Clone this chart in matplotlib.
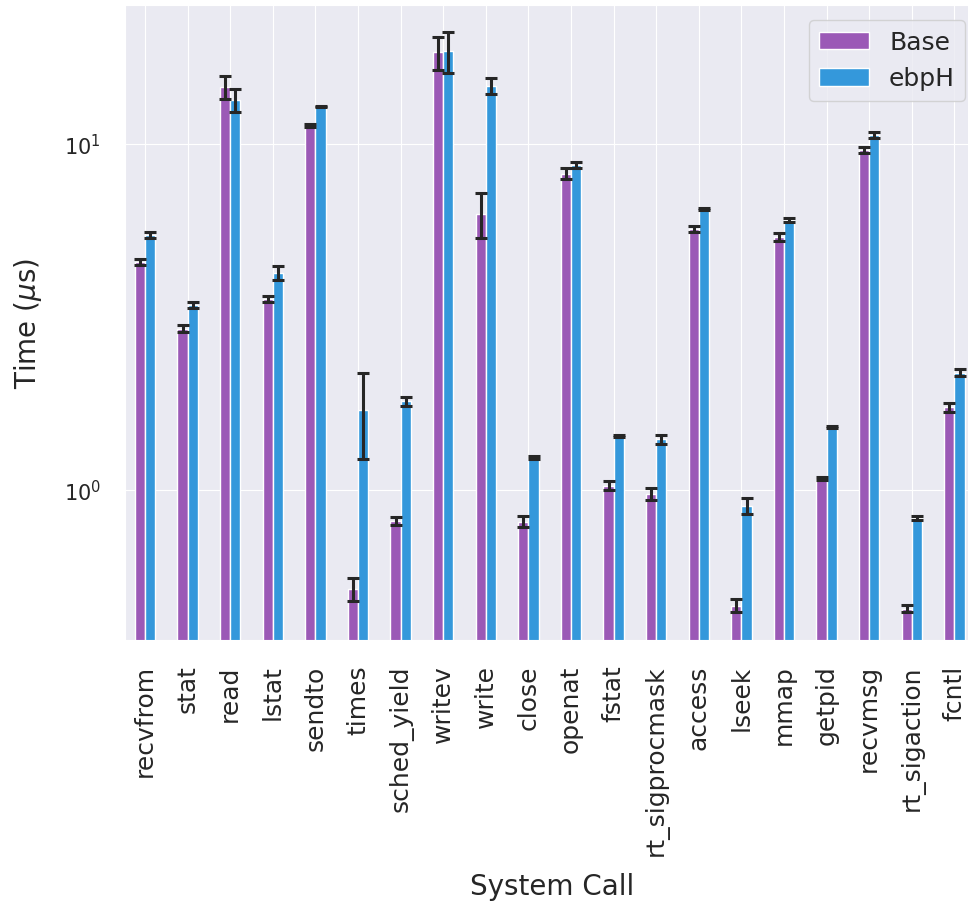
import matplotlib
matplotlib.use("Agg")
import matplotlib.pyplot as plt
import numpy as np
import seaborn as sns

calls = ["recvfrom", "stat", "read", "lstat", "sendto", "times", "sched_yield",
         "writev", "write", "close", "openat", "fstat", "rt_sigprocmask",
         "access", "lseek", "mmap", "getpid", "recvmsg", "rt_sigaction", "fcntl"]

# mean syscall time in microseconds
base = [4.56, 2.92, 14.6, 3.56, 11.3, 0.517, 0.813, 18.4, 6.28, 0.809,
        8.19, 1.027, 0.974, 5.68, 0.462, 5.39, 1.076, 9.61, 0.453, 1.73]
ebph = [5.46, 3.42, 13.4, 4.24, 12.8, 1.70, 1.80, 18.5, 14.7, 1.24,
        8.69, 1.43, 1.40, 6.49, 0.899, 6.03, 1.52, 10.6, 0.830, 2.18]

# standard deviations
base_err = [0.10, 0.07, 1.10, 0.08, 0.10, 0.04, 0.02, 2.0, 0.95, 0.03,
            0.30, 0.03, 0.04, 0.10, 0.02, 0.15, 0.01, 0.20, 0.01, 0.05]
ebph_err = [0.10, 0.07, 1.00, 0.20, 0.05, 0.47, 0.05, 2.5, 0.80, 0.01,
            0.15, 0.01, 0.04, 0.05, 0.05, 0.08, 0.01, 0.20, 0.01, 0.05]

sns.set_style("darkgrid")
plt.rcParams['font.family'] = ['DejaVu Sans']

fig = plt.figure(figsize=(9.68, 9.03), dpi=100)
# axes runs a little past the right edge of the figure
ax = fig.add_axes([125/968, 262/903, 855/968, 635/903])

x = np.arange(len(calls))
w = 0.24
ekw = dict(elinewidth=2.2, capthick=2.2, ecolor="#262626")
ax.bar(x - w/2, base, w, yerr=base_err, capsize=4.5, color="#9b59b6",
       edgecolor="white", linewidth=1, label="Base", error_kw=ekw)
ax.bar(x + w/2, ebph, w, yerr=ebph_err, capsize=4.5, color="#3498db",
       edgecolor="white", linewidth=1, label="ebpH", error_kw=ekw)

ax.set_yscale("log")
ax.set_ylim(0.368, 25.2)
ax.set_xlim(-0.47, 19.6)
ax.set_xticks(x)
ax.set_xticklabels(calls, rotation=90, fontsize=18)
ax.tick_params(axis="x", pad=14)
ax.tick_params(axis="y", labelsize=15, pad=14)
ax.set_xlabel("System Call", fontsize=20, labelpad=12)
ax.set_ylabel(r"Time ($\mu$s)", fontsize=20, labelpad=14)
ax.legend(loc="upper right", fontsize=18, borderaxespad=0.6)

fig.savefig("out.png", dpi=100)
